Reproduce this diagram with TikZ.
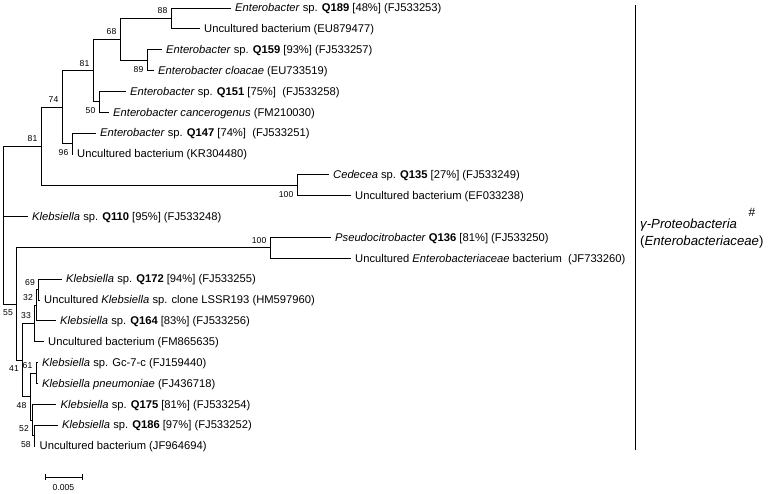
\documentclass[tikz,border=0pt]{standalone}
\usepackage{fontspec}
\setmainfont{Liberation Sans}
\usepackage{tikz}
\usetikzlibrary{positioning,calc}

\begin{document}
\begin{tikzpicture}[x=1pt, y=-1pt, every node/.style={font=\fontsize{11.2}{13}\selectfont}]
\tikzset{
  branch/.style={draw=black, line width=0.75pt},
  leaf/.style={anchor=west, inner xsep=4.5pt, inner ysep=0pt, text height=8pt, text depth=0.5pt},
  boot/.style={anchor=base east, inner sep=0pt, xshift=-3.5pt, font=\fontsize{8.6}{10}\selectfont},
  bootup/.style={boot, yshift=4.5pt},
  bootdown/.style={boot, yshift=-12pt},
  grouplabel/.style={anchor=base west, inner sep=0pt, font=\fontsize{13.2}{15}\selectfont}
}
\useasboundingbox (0,0) rectangle (781,493);

% leaves
\node[leaf] (q189) at (230.5,8) {\textit{Enterobacter} sp. \textbf{Q189} [48\%] (FJ533253)};
\node[leaf] (eu879477) at (199.5,28.86) {Uncultured bacterium (EU879477)};
\node[leaf] (q159) at (161.5,49.71) {\textit{Enterobacter} sp. \textbf{Q159} [93\%] (FJ533257)};
\node[leaf] (cloacae) at (153.5,70.57) {\textit{Enterobacter cloacae} (EU733519)};
\node[leaf] (q151) at (125.5,91.43) {\textit{Enterobacter} sp. \textbf{Q151} [75\%]~ (FJ533258)};
\node[leaf] (cancerogenus) at (108.5,112.29) {\textit{Enterobacter cancerogenus} (FM210030)};
\node[leaf] (q147) at (95.5,133.14) {\textit{Enterobacter} sp. \textbf{Q147} [74\%]~ (FJ533251)};
\node[leaf] (kr304480) at (72.5,154) {Uncultured bacterium (KR304480)};
\node[leaf] (q135) at (328.5,174.86) {\textit{Cedecea} sp. \textbf{Q135} [27\%] (FJ533249)};
\node[leaf] (ef033238) at (350.5,195.71) {Uncultured bacterium (EF033238)};
\node[leaf] (q110) at (27.5,216.57) {\textit{Klebsiella} sp. \textbf{Q110} [95\%] (FJ533248)};
\node[leaf] (q136) at (330.5,237.43) {\textit{Pseudocitrobacter} \textbf{Q136} [81\%] (FJ533250)};
\node[leaf] (jf733260) at (350.5,258.29) {Uncultured \textit{Enterobacteriaceae} bacterium~ (JF733260)};
\node[leaf] (q172) at (61.5,279.14) {\textit{Klebsiella} sp. \textbf{Q172} [94\%] (FJ533255)};
\node[leaf] (lssr193) at (39.5,300) {Uncultured \textit{Klebsiella} sp. clone LSSR193 (HM597960)};
\node[leaf] (q164) at (55.5,320.86) {\textit{Klebsiella} sp. \textbf{Q164} [83\%] (FJ533256)};
\node[leaf] (fm865635) at (43.5,341.71) {Uncultured bacterium (FM865635)};
\node[leaf] (gc7c) at (37.5,362.57) {\textit{Klebsiella} sp. Gc-7-c (FJ159440)};
\node[leaf] (pneumoniae) at (37.5,383.43) {\textit{Klebsiella pneumoniae} (FJ436718)};
\node[leaf] (q175) at (56,404.29) {\textit{Klebsiella} sp. \textbf{Q175} [81\%] (FJ533254)};
\node[leaf] (q186) at (57.5,425.14) {\textit{Klebsiella} sp. \textbf{Q186} [97\%] (FJ533252)};
\node[leaf] (jf964694) at (35,446) {Uncultured bacterium (JF964694)};

% internal nodes
\coordinate (nA) at (171,18.43);
\coordinate (nB) at (147,60.14);
\coordinate (nC) at (120,39.29);
\coordinate (nD) at (99,101.86);
\coordinate (nE) at (93,70.57);
\coordinate (nF) at (72,143.57);
\coordinate (nG) at (62,107.07);
\coordinate (nH) at (297,185.29);
\coordinate (nI) at (41,146.18);
\coordinate (root) at (3,216.57);
\coordinate (nJ) at (270,247.86);
\coordinate (n55) at (16.5,303.91);
\coordinate (n41) at (22.5,359.96);
\coordinate (n33) at (34.5,323.46);
\coordinate (n32) at (36.5,305.21);
\coordinate (n69) at (38.5,289.57);
\coordinate (n48) at (30,396.46);
\coordinate (n61) at (36,373);
\coordinate (n52) at (32.5,419.93);
\coordinate (n58) at (34.3,435.57);

% branches
\draw[branch] (nA) |- (q189.west);
\draw[branch] (nA) |- (eu879477.west);
\draw[branch] (nB) |- (q159.west);
\draw[branch] (nB) |- (cloacae.west);
\draw[branch] (nC) |- (nA);
\draw[branch] (nC) |- (nB);
\draw[branch] (nD) |- (q151.west);
\draw[branch] (nD) |- (cancerogenus.west);
\draw[branch] (nE) |- (nC);
\draw[branch] (nE) |- (nD);
\draw[branch] (nF) |- (q147.west);
\draw[branch] (nF) |- (kr304480.west);
\draw[branch] (nG) |- (nE);
\draw[branch] (nG) |- (nF);
\draw[branch] (nH) |- (q135.west);
\draw[branch] (nH) |- (ef033238.west);
\draw[branch] (nI) |- (nG);
\draw[branch] (nI) |- (nH);
\draw[branch] (root) |- (nI);
\draw[branch] (root) |- (q110.west);
\draw[branch] (root) |- (n55);
\draw[branch] (nJ) |- (q136.west);
\draw[branch] (nJ) |- (jf733260.west);
\draw[branch] (n55) |- (nJ);
\draw[branch] (n55) |- (n41);
\draw[branch] (n69) |- (q172.west);
\draw[branch] (n69) |- (lssr193.west);
\draw[branch] (n32) |- (n69);
\draw[branch] (n32) |- (q164.west);
\draw[branch] (n33) |- (n32);
\draw[branch] (n33) |- (fm865635.west);
\draw[branch] (n41) |- (n33);
\draw[branch] (n41) |- (n48);
\draw[branch] (n61) |- (gc7c.west);
\draw[branch] (n61) |- (pneumoniae.west);
\draw[branch] (n58) |- (q186.west);
\draw[branch] (n58) |- (jf964694.west);
\draw[branch] (n52) |- (q175.west);
\draw[branch] (n52) |- (n58);
\draw[branch] (n48) |- (n61);
\draw[branch] (n48) |- (n52);

% bootstrap values
\node[bootup] (bA) at (nA) {88};
\node[bootdown] (bB) at (nB) {89};
\node[bootup] (bC) at (nC) {68};
\node[bootdown] (bD) at (nD) {50};
\node[bootup] (bE) at (nE) {81};
\node[bootdown] (bF) at (nF) {96};
\node[bootup] (bG) at (nG) {74};
\node[bootdown] (bH) at (nH) {100};
\node[bootup] (bI) at (nI) {81};
\node[bootup] (bJ) at (nJ) {100};
\node[bootdown] (b55) at (n55) {55};
\node[bootdown] (b41) at (n41) {41};
\node[bootup] (b33) at (n33) {33};
\node[bootup] (b32) at (n32) {32};
\node[bootup] (b69) at (n69) {69};
\node[bootdown] (b48) at (n48) {48};
\node[bootup] (b61) at (n61) {61};
\node[bootdown] (b52) at (n52) {52};
\node[bootdown] (b58) at (n58) {58};

% scale bar
\coordinate (sbL) at (45,477);
\coordinate (sbR) at (82,477);
\draw[branch] (sbL) -- (sbR);
\draw[branch] ($(sbL)+(0,-3)$) -- ($(sbL)+(0,3)$);
\draw[branch] ($(sbR)+(0,-3)$) -- ($(sbR)+(0,3)$);
\node[inner sep=0pt, font=\fontsize{8.6}{10}\selectfont] (sbtext) at (63.5,488) {0.005};

% group bracket
\coordinate (brT) at (635,5);
\coordinate (brB) at (635,450);
\draw[branch] (brT) -- (brB);
\node[grouplabel] (grp) at (640,228.5) {\textit{γ-Proteobacteria}};
\node[grouplabel] (fam) at (640,245.5) {(\textit{Enterobacteriaceae})};
\node[inner sep=0pt, font=\fontsize{12}{14}\selectfont] (hash) at (752,212) {\#};
\end{tikzpicture}
\end{document}
